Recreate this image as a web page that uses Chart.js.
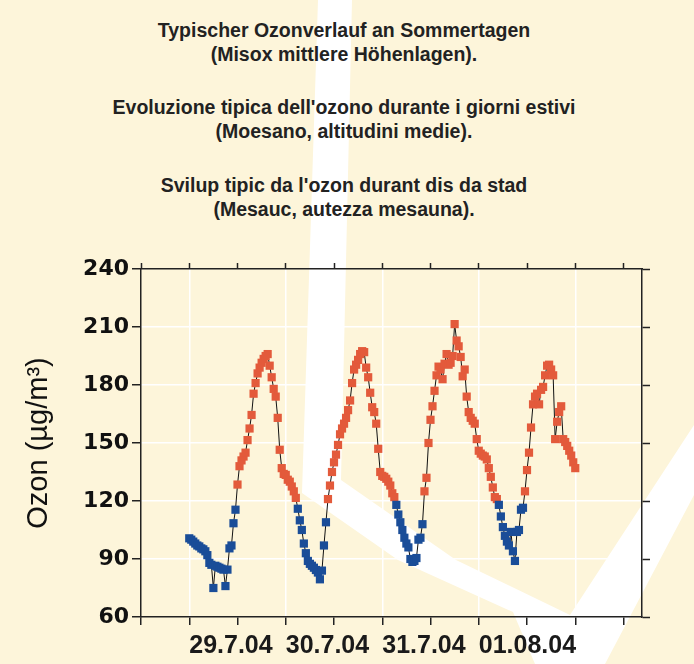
<!DOCTYPE html>
<html>
<head>
<meta charset="utf-8">
<script src="https://cdn.jsdelivr.net/npm/chart.js@4.4.1/dist/chart.umd.min.js"></script>
<style>
html,body{margin:0;padding:0;width:694px;height:664px;overflow:hidden;background:#FDF5DA;}
#bg{position:absolute;left:0;top:0;width:694px;height:664px;}
#wrap{position:absolute;left:0;top:0;width:694px;height:664px;}
.t{position:absolute;left:0;width:688px;text-align:center;font-family:"Liberation Sans",Arial,sans-serif;font-weight:bold;font-size:19.5px;line-height:20px;color:#222;white-space:nowrap;}
</style>
</head>
<body>
<svg id="bg" width="694" height="664" viewBox="0 0 694 664">
  <polygon fill="#ffffff" points="318,0 352,0 341,480 456,560 570,615 694,425 694,495 605,664 535,664 513,612 398,560 302,493"/>
</svg>
<div class="t" style="top:19.5px">Typischer Ozonverlauf an Sommertagen</div>
<div class="t" style="top:43.5px">(Misox mittlere Höhenlagen).</div>
<div class="t" style="top:97px">Evoluzione tipica dell'ozono durante i giorni estivi</div>
<div class="t" style="top:121px">(Moesano, altitudini medie).</div>
<div class="t" style="top:175px">Svilup tipic da l'ozon durant dis da stad</div>
<div class="t" style="top:199px">(Mesauc, autezza mesauna).</div>
<div id="wrap"><canvas id="c" width="694" height="664"></canvas></div>
<script>
// Half-hourly ozone values (µg/m³), each day starting at 00:00
const day1Ozone = [100.7,100,99,98,97,96.5,95.5,95,94,92,
  88,87,75,86.5,86,85.5,85,84.5,76,84.5,
  95.5,97,108.5,115.5,128.5,138,141,143,145,151.5,
  157.5,164.5,175.5,181,186,189,191.5,193.5,195,196,
  190,184,178,174,163,146.5,137,134];
const day2Ozone = [133.5,131,130,127.5,125,121.6,116,110,105,98,
  93,89,87.5,86.5,85.5,84.3,83,79.5,84,97,
  109,121,128,135,140,144,149,154.5,157.5,160,
  163,167,172,181,188,190.5,193,196,197.5,197,
  189,184,176,168.5,166,160,147,135];
const day3Ozone = [133,132.5,131.5,130,128,124,122,118,113,109,
  105,101,98,96,90,88.5,89,90.5,100,101,
  108,125,132,150,162,169,177,185,189.5,188,
  183,191,196,190.5,191.5,195,211.5,203,200,194.5,
  184.5,188,174,166,163,161.5,160,152];
const day4Ozone = [146,144.5,143.5,143,141.5,137,132.5,127,122,121,
  118,112,106.5,102,99,97,104,94,89,104,
  105,115.5,116.5,125,136,145,158,170,174,175.5,
  170,177.5,179,185,190,190.5,188,185,152,161,
  166,169,152,150.5,148.5,146,143.5,140,137];
const dailySeries = [day1Ozone, day2Ozone, day3Ozone, day4Ozone];
const sampleStepHours = 0.5;

// Axis ticks and labels
const dayLabels = ['29.7.04','30.7.04','31.7.04','01.08.04'];
const dayStartHours = [0,24,48,72];
const xTickHours = [-12,0,12,24,36,48,60,72,84,96,108];
const yTicks = [60,90,120,150,180,210,240];
const limitValue = 120;

const points = [];
dailySeries.forEach((vals, d) => {
  vals.forEach((v, i) => points.push({x: dayStartHours[d] + i * sampleStepHours, y: v}));
});

const RED = '#E35A3B', BLUE = '#1A4D98', AXIS = '#222';
const setXTicks = s => { s.ticks = xTickHours.map(v => ({value: v})); };
const setYTicks = s => { s.ticks = yTicks.map(v => ({value: v})); };

new Chart(document.getElementById('c'), {
  type: 'line',
  data: {
    datasets: [{
      data: points,
      borderColor: '#111',
      borderWidth: 1,
      tension: 0,
      pointStyle: 'rect',
      pointRadius: 5.8,
      pointBorderWidth: 0,
      pointBackgroundColor: c => (c.parsed && c.parsed.y >= limitValue) ? RED : BLUE
    }]
  },
  options: {
    responsive: false,
    animation: false,
    events: [],
    layout: {padding: {left: 0, right: 44, top: 261, bottom: 0}},
    plugins: {legend: {display: false}, tooltip: {enabled: false}},
    scales: {
      x: {
        type: 'linear', position: 'bottom', min: -12, max: 112.6,
        afterBuildTicks: setXTicks,
        afterFit: s => { s.height = 47; },
        ticks: {
          autoSkip: false, maxRotation: 0, align: 'start', padding: 6,
          color: '#1a1a1a',
          font: {family: 'Liberation Sans', weight: 'bold', size: 25},
          callback: v => { const k = dayStartHours.indexOf(v); return k >= 0 ? dayLabels[k] : ''; }
        },
        grid: {
          color: c => (c.tick && c.tick.value % 24 === 0) ? '#ffffff' : 'rgba(0,0,0,0)',
          lineWidth: 1.5, tickColor: AXIS, tickLength: 8, tickWidth: 1.5
        },
        border: {color: AXIS, width: 1.5}
      },
      x2: {
        type: 'linear', position: 'top', min: -12, max: 112.6,
        afterBuildTicks: setXTicks,
        afterFit: s => { s.height = 8; },
        ticks: {display: false},
        grid: {drawOnChartArea: false, tickColor: AXIS, tickLength: 6, tickWidth: 1.5},
        border: {color: AXIS, width: 1.5}
      },
      y: {
        type: 'linear', position: 'left', min: 60, max: 240,
        afterBuildTicks: setYTicks,
        afterFit: s => { s.width = 141; },
        ticks: {
          padding: 3, color: '#111',
          font: {family: 'DejaVu Sans', weight: 'bold', size: 22}
        },
        grid: {
          color: c => (c.tick && (c.tick.value === 60 || c.tick.value === 240)) ? 'rgba(0,0,0,0)' : '#ffffff',
          lineWidth: 1.5, tickColor: AXIS, tickLength: 9, tickWidth: 1.5
        },
        border: {color: AXIS, width: 1.5},
        title: {
          display: true, text: 'Ozon (µg/m³)', color: '#111',
          font: {family: 'Liberation Sans', size: 29, weight: 'normal'},
          padding: {top: 22, bottom: 0}
        }
      },
      y2: {
        type: 'linear', position: 'right', min: 60, max: 240,
        afterBuildTicks: setYTicks,
        afterFit: s => { s.width = 8; },
        ticks: {display: false},
        grid: {drawOnChartArea: false, tickColor: AXIS, tickLength: 8, tickWidth: 1.5},
        border: {color: AXIS, width: 1.5}
      }
    }
  }
});
</script>
</body>
</html>
